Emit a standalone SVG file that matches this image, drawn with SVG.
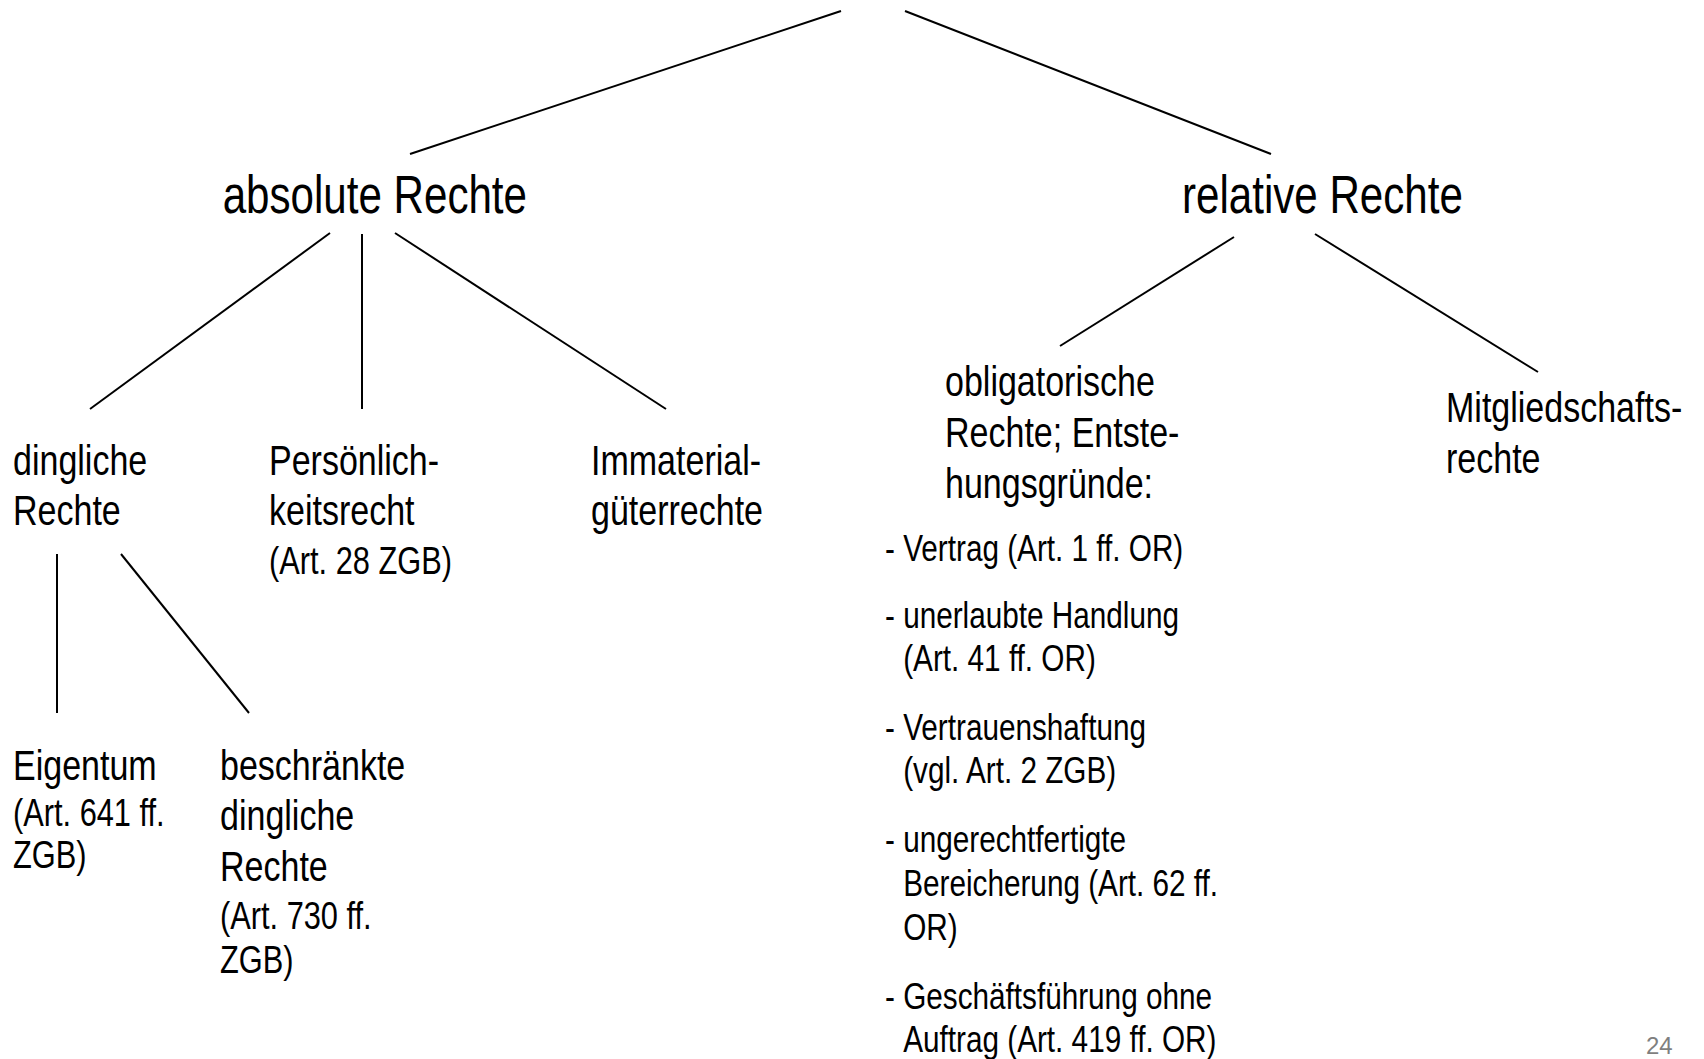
<svg xmlns="http://www.w3.org/2000/svg" width="1704" height="1059" viewBox="0 0 1704 1059">
<style>
text{font-family:"Liberation Sans",Arial,sans-serif;fill:#000;}
.big{font-size:54px;}
.mid{font-size:42px;}
.sm{font-size:38px;}
.li{font-size:36.7px;}
.pg{font-size:24px;fill:#7f7f7f;}
.edge{stroke:#000;stroke-width:2;fill:none;stroke-linecap:butt;}
</style>
<rect width="1704" height="1059" fill="#fff"/>
<g id="connectors">
<line class="edge" x1="841" y1="11" x2="410" y2="154"/>
<line class="edge" x1="905" y1="11" x2="1271" y2="154"/>
<line class="edge" x1="330" y1="233" x2="90" y2="409"/>
<line class="edge" x1="362" y1="234" x2="362" y2="409"/>
<line class="edge" x1="395" y1="233" x2="666" y2="409"/>
<line class="edge" x1="57" y1="554" x2="57" y2="713"/>
<line class="edge" x1="121" y1="554" x2="249" y2="713"/>
<line class="edge" x1="1234" y1="237" x2="1060" y2="346"/>
<line class="edge" x1="1315" y1="234" x2="1538" y2="372"/>
</g>
<g id="n-absolute" transform="translate(222.7,0) scale(0.78,1)">
<text class="big" x="0" y="213">absolute Rechte</text>
</g>
<g id="n-relative" transform="translate(1182,0) scale(0.78,1)">
<text class="big" x="0" y="213">relative Rechte</text>
</g>
<g id="n-dinglich" transform="translate(13,0) scale(0.81,1)">
<text class="mid" x="0" y="475">dingliche</text>
<text class="mid" x="0" y="525">Rechte</text>
</g>
<g id="n-persoenlich" transform="translate(269,0) scale(0.81,1)">
<text class="mid" x="0" y="475">Persönlich-</text>
<text class="mid" x="0" y="525">keitsrecht</text>
<text class="sm" x="0" y="574">(Art. 28 ZGB)</text>
</g>
<g id="n-immaterial" transform="translate(591,0) scale(0.81,1)">
<text class="mid" x="0" y="475">Immaterial-</text>
<text class="mid" x="0" y="525">güterrechte</text>
</g>
<g id="n-eigentum" transform="translate(13,0) scale(0.81,1)">
<text class="mid" x="0" y="780">Eigentum</text>
<text class="sm" x="0" y="826">(Art. 641 ff.</text>
<text class="sm" x="0" y="868">ZGB)</text>
</g>
<g id="n-beschraenkt" transform="translate(220,0) scale(0.81,1)">
<text class="mid" x="0" y="780">beschränkte</text>
<text class="mid" x="0" y="830">dingliche</text>
<text class="mid" x="0" y="881">Rechte</text>
<text class="sm" x="0" y="929">(Art. 730 ff.</text>
<text class="sm" x="0" y="973">ZGB)</text>
</g>
<g id="n-obligatorisch">
<g transform="translate(945,0) scale(0.81,1)">
<text class="mid" x="0" y="396">obligatorische</text>
<text class="mid" x="0" y="447">Rechte; Entste-</text>
<text class="mid" x="0" y="498">hungsgründe:</text>
</g>
<g transform="translate(885,0) scale(0.81,1)">
<text class="li" x="0" y="561">- Vertrag (Art. 1 ff. OR)</text>
<text class="li" x="0" y="628">- unerlaubte Handlung</text>
<text class="li" x="22.5" y="671">(Art. 41 ff. OR)</text>
<text class="li" x="0" y="740">- Vertrauenshaftung</text>
<text class="li" x="22.5" y="783">(vgl. Art. 2 ZGB)</text>
<text class="li" x="0" y="852">- ungerechtfertigte</text>
<text class="li" x="22.5" y="896">Bereicherung (Art. 62 ff.</text>
<text class="li" x="22.5" y="940">OR)</text>
<text class="li" x="0" y="1009">- Geschäftsführung ohne</text>
<text class="li" x="22.5" y="1052">Auftrag (Art. 419 ff. OR)</text>
</g>
</g>
<g id="n-mitglied" transform="translate(1446,0) scale(0.81,1)">
<text class="mid" x="0" y="422">Mitgliedschafts-</text>
<text class="mid" x="0" y="473">rechte</text>
</g>
<g id="page-number">
<text class="pg" x="1646" y="1054">24</text>
</g>
</svg>
